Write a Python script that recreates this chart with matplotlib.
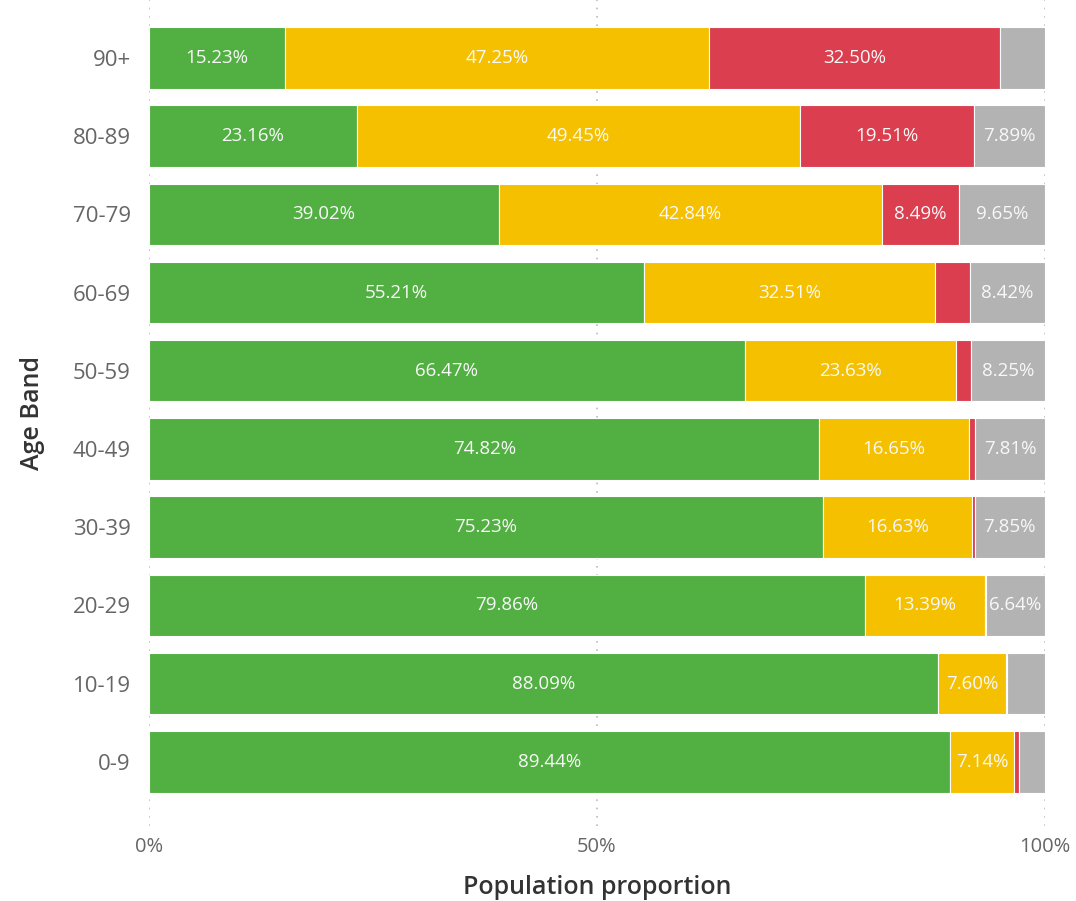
import matplotlib
matplotlib.use("Agg")
import matplotlib.pyplot as plt
import numpy as np

bands = ["0-9", "10-19", "20-29", "30-39", "40-49", "50-59", "60-69", "70-79", "80-89", "90+"]
green = [89.44, 88.09, 79.86, 75.23, 74.82, 66.47, 55.21, 39.02, 23.16, 15.23]
yellow = [7.14, 7.60, 13.39, 16.63, 16.65, 23.63, 32.51, 42.84, 49.45, 47.25]
red = [0.47, 0.05, 0.11, 0.29, 0.72, 1.65, 3.86, 8.49, 19.51, 32.50]
grey = [2.95, 4.26, 6.64, 7.85, 7.81, 8.25, 8.42, 9.65, 7.89, 5.02]
xticks = [0, 50, 100]
xticklabels = ["0%", "50%", "100%"]

colors = ["#52AF42", "#F5C000", "#DB3E4F", "#B3B3B3"]
series = [green, yellow, red, grey]

plt.rcParams['font.family'] = ['Open Sans', 'DejaVu Sans']

fig = plt.figure(figsize=(10.76, 9.01), dpi=100)
ax = fig.add_axes([149/1076, 1-826/901, (1045-149)/1076, 826/901 - 0.0])

y = np.arange(len(bands))
left = np.zeros(len(bands))
for vals, c in zip(series, colors):
    vals = np.array(vals)
    ax.barh(y, vals, left=left, height=0.785, color=c, edgecolor="white", linewidth=0.8, zorder=2)
    for yi, (l, v) in enumerate(zip(left, vals)):
        if v >= 5.5:
            ax.text(l + v/2, yi, f"{v:.2f}%", ha="center", va="center",
                    color="#F8F8F8", fontsize=13.5, zorder=3)
    left = left + vals

ax.set_xlim(0, 100)
ax.set_ylim(-0.82, 9.74)
ax.set_yticks(y)
ax.set_yticklabels(bands)
ax.set_xticks(xticks)
ax.set_xticklabels(xticklabels)
ax.tick_params(axis="both", length=0, colors="#666666")
ax.tick_params(axis="y", pad=13, labelsize=16)
ax.tick_params(axis="x", pad=8, labelsize=14.5)
for s in ax.spines.values():
    s.set_visible(False)
ax.grid(axis="x", linestyle=(0, (1, 4)), color="#BBBBBB", linewidth=1.2, zorder=0)
ax.set_axisbelow(True)

ax.set_xlabel("Population proportion", fontsize=18, fontweight="semibold", color="#333333", labelpad=13)
ax.set_ylabel("Age Band", fontsize=18, fontweight="semibold", color="#333333", labelpad=20)

fig.savefig("out.png", dpi=100)
